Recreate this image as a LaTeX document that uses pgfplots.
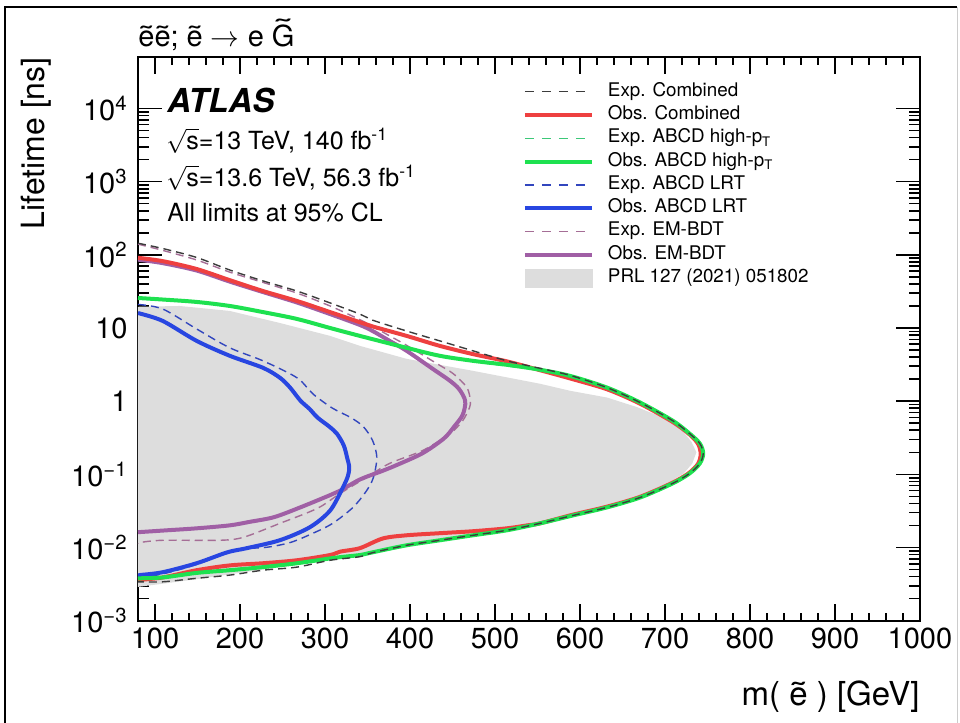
\documentclass[border=0pt]{standalone}
\usepackage{pgfplots}
\pgfplotsset{compat=1.18}
\usepackage{graphicx}
\usepackage{fontspec}
\setmainfont{TeX Gyre Heros}

\definecolor{cRed}{RGB}{238,64,64}
\definecolor{cGreen}{RGB}{30,225,80}
\definecolor{cBlue}{RGB}{40,70,225}
\definecolor{cPurple}{RGB}{160,95,165}
\definecolor{cGray}{RGB}{221,221,221}
\definecolor{cGreenD}{RGB}{60,200,120}
\definecolor{cBlueD}{RGB}{50,70,190}
\definecolor{cPurpleD}{RGB}{165,110,150}
\definecolor{cBlackD}{RGB}{60,60,60}

\newcommand{\tl}[1]{{\ooalign{#1\cr\hidewidth\scalebox{1.35}[1]{\char"02DC}\hidewidth\cr}}}
\newcommand{\tlG}{{\ooalign{G\cr\hidewidth\raisebox{0.22em}{\scalebox{1.7}[1]{\char"02DC}}\hidewidth\cr}}}

\begin{document}
\begin{tikzpicture}
\begin{scope}[x=0.5pt,y=-0.5pt]
\useasboundingbox (0,0) rectangle (960,723);
\draw[line width=1pt] (5,723) -- (5,7) -- (957,7);
\draw[black!20, line width=0.5pt] (957,7) -- (957,723);
\end{scope}

\begin{axis}[
  at={(69pt,-310.35pt)}, anchor=south west,
  width=391pt, height=281.7pt, scale only axis,
  xmin=80, xmax=1000, ymode=log, ymin=1e-3, ymax=5e4,
  xtick={100,200,...,1000}, minor x tick num=4,
  xticklabels={100,200,300,400,500,600,700,800,900,1000},
  ytick={1e-3,1e-2,1e-1,1,10,100,1000,10000},
  yticklabels={10\textsuperscript{−3},10\textsuperscript{−2},10\textsuperscript{−1},1,10,10\textsuperscript{2},10\textsuperscript{3},10\textsuperscript{4}},
  tick align=inside,
  axis line style={line width=1pt},
  every tick/.style={black, line width=0.8pt},
  major tick length=12pt, minor tick length=5.5pt,
  x tick style={/pgfplots/major tick length=8.5pt,/pgfplots/minor tick length=4pt},
  tick label style={font=\fontsize{14.5}{16}\selectfont},
  xticklabel style={inner sep=3.5pt},
  yticklabel style={inner sep=5pt},
  legend image code/.code={\draw[#1] (0pt,0pt) -- (33.5pt,0pt);},
  legend style={at={(0.4923,0.956)}, anchor=north west, draw=none, fill=none,
    inner sep=0pt, outer sep=0pt, row sep=2.15pt, column sep=7pt,
    font=\fontsize{9.4}{11}\selectfont,
    nodes={inner sep=0pt, text height=7pt, text depth=2.5pt}},
  legend cell align=left,
]
% PRL 127 (2021) 051802
\addplot[fill=cGray, draw=none, forget plot] coordinates {
(80,19.5)(129,20.0)(188,17.1)(247,11.7)(306,7.8)(341,5.7)(396,3.79)(474,2.6)
(553,1.73)(588,1.39)(632,1.12)(667,0.83)(698,0.596)(720,0.40)(731,0.28)(737,0.20)
(732,0.14)(722,0.103)(703,0.075)(667,0.049)(630,0.0357)(590,0.0278)(553,0.0218)
(514,0.0175)(474,0.0149)(435,0.0128)(396,0.0109)(356,0.0088)(306,0.0069)(267,0.0058)
(227,0.0050)(188,0.0043)(149,0.0037)(109,0.0032)(80,0.0029)} -- cycle;

% Exp. ABCD high-pT
\addplot[cGreenD, dash pattern=on 4pt off 2.5pt, line width=0.7pt, smooth, tension=0.5, forget plot] coordinates {
(80,25)(109,24)(149,22.3)(188,19.6)(227,16.2)(267,13.0)(306,9.8)(341,7.7)(396,5.3)
(474,3.5)(553,2.65)(588,2.18)(632,1.5)(671,0.94)(709,0.53)(729,0.355)(740,0.262)
(744,0.193)(740,0.141)(728,0.103)(708,0.0755)(670,0.0487)(631,0.0357)(591,0.0277)
(553,0.0216)(474,0.0149)(396,0.0109)(341,0.0080)(306,0.0072)(227,0.0055)(149,0.0046)
(109,0.0040)(80,0.0039)};

% Exp. ABCD LRT
\addplot[cBlueD, dash pattern=on 4pt off 2.5pt, line width=0.7pt, smooth, tension=0.5, forget plot] coordinates {
(80,21)(109,18.2)(149,9.7)(188,5.36)(227,3.56)(267,2.09)(286,1.25)(309,0.80)
(330,0.6)(345,0.45)(356,0.29)(361,0.170)(357,0.091)(349,0.060)(333,0.0354)
(309,0.0214)(286,0.0157)(260,0.0118)(232,0.0101)(192,0.0092)(153,0.0061)(114,0.0045)
(82,0.0038)(80,0.0038)};

% Exp. EM-BDT
\addplot[cPurpleD, dash pattern=on 4pt off 2.5pt, line width=0.7pt, smooth, tension=0.5, forget plot] coordinates {
(80,140)(109,115)(149,85)(188,58)(227,42)(267,30)(306,20)(341,13)(356,10.5)(376,7.8)
(396,5.8)(432,3.24)(451,2.37)(467,1.53)(471,1.02)(470,0.815)(462,0.542)(447,0.360)
(415,0.212)(376,0.141)(349,0.091)(318,0.055)(291,0.0343)(247,0.0214)(204,0.0138)
(176,0.01256)(109,0.01256)(82,0.0117)(80,0.0112)};

% Obs. EM-BDT
\addplot[cPurple, line width=2pt, smooth, tension=0.5, forget plot] coordinates {
(80,86)(109,77)(149,61)(188,43)(227,31)(267,22.3)(306,15.5)(341,11)(356,9.1)
(376,6.67)(396,4.88)(427,2.75)(447,1.90)(458,1.45)(465,1.0)(462,0.65)(452,0.45)
(440,0.31)(415,0.195)(385,0.135)(368,0.112)(341,0.085)(318,0.060)(306,0.052)
(271,0.0354)(240,0.026)(212,0.0225)(188,0.0201)(149,0.0183)(114,0.0172)(80,0.0162)};

% Obs. ABCD LRT
\addplot[cBlue, line width=2pt, smooth, tension=0.5, forget plot] coordinates {
(80,16)(109,12.5)(149,6.67)(188,4.17)(227,2.86)(247,2.09)(259,1.53)(271,1.02)
(282,0.78)(291,0.60)(305,0.45)(314,0.36)(322,0.25)(326,0.17)(328.5,0.125)(327,0.095)
(321,0.066)(306,0.032)(282,0.0189)(247,0.0126)(208,0.0098)(185,0.0086)(149,0.0061)
(109,0.0046)(82,0.0042)(80,0.0041)};

% Obs. Combined
\addplot[cRed, line width=2pt, smooth, tension=0.5, forget plot] coordinates {
(80,91)(109,82)(149,64)(188,45)(227,32)(267,23.4)(306,16.5)(341,12)
(356,10.5)(396,7.8)(435,5.7)(474,4.4)(514,3.5)(553,2.65)(588,2.05)(632,1.45)(671,0.92)
(709,0.52)(729,0.35)(739,0.26)(742,0.19)(739,0.14)(728,0.104)(708,0.076)(670,0.049)
(631,0.036)(591,0.028)(553,0.0214)(538,0.0201)(514,0.0183)(474,0.0167)(435,0.0157)
(396,0.0147)(368,0.0133)(341,0.0098)(318,0.0088)(306,0.0079)(267,0.0067)(227,0.0061)
(188,0.0057)(149,0.0049)(109,0.0039)(80,0.0036)};

% Obs. ABCD high-pT
\addplot[cGreen, line width=2pt, smooth, tension=0.5, forget plot] coordinates {
(80,25.7)(109,24.5)(149,22.7)(188,20.0)(227,16.5)(267,13.3)(306,10.0)(341,7.8)
(396,5.36)(435,4.17)(474,3.56)(514,3.14)(553,2.69)(588,2.22)(632,1.53)
(671,0.955)(709,0.542)(729,0.36)(741,0.264)(745,0.193)(741,0.141)(729,0.103)
(709,0.0752)(671,0.0484)(632,0.0354)(592,0.0275)(553,0.0214)(514,0.0172)(474,0.0147)
(435,0.01256)(396,0.01073)(356,0.0086)(341,0.0079)(318,0.0074)(306,0.0071)(267,0.0061)
(227,0.0054)(188,0.0049)(149,0.0045)(109,0.0039)(80,0.0038)};

% Exp. Combined
\addplot[cBlackD, dash pattern=on 4pt off 2.5pt, line width=0.7pt, smooth, tension=0.5, forget plot] coordinates {
(80,144)(109,122)(149,92)(188,62)(227,44)(267,32)(306,22)(341,15.5)(356,12.8)(396,9.1)
(435,6.67)(474,4.88)(514,3.56)(545,2.95)(588,2.26)(632,1.53)(671,0.955)(709,0.542)
(729,0.36)(741,0.264)(745,0.193)(741,0.141)(729,0.103)(709,0.0752)(671,0.0484)(632,0.0354)
(592,0.0275)(553,0.0214)(514,0.0172)(474,0.0147)(435,0.01256)(396,0.01073)(356,0.0085)
(341,0.0075)(306,0.0067)(267,0.0054)(227,0.0049)(188,0.0042)(149,0.0038)(109,0.0034)
(80,0.0034)};

\addlegendimage{cBlackD, dash pattern=on 4.5pt off 4pt, line width=0.7pt}
\addlegendentry{Exp. Combined}
\addlegendimage{cRed, line width=2pt}
\addlegendentry{Obs. Combined}
\addlegendimage{cGreenD, dash pattern=on 4.5pt off 4pt, line width=0.7pt}
\addlegendentry{Exp. ABCD high-p\textsubscript{T}}
\addlegendimage{cGreen, line width=2pt}
\addlegendentry{Obs. ABCD high-p\textsubscript{T}}
\addlegendimage{cBlueD, dash pattern=on 4.5pt off 4pt, line width=0.7pt}
\addlegendentry{Exp. ABCD LRT}
\addlegendimage{cBlue, line width=2pt}
\addlegendentry{Obs. ABCD LRT}
\addlegendimage{cPurpleD, dash pattern=on 4.5pt off 4pt, line width=0.7pt}
\addlegendentry{Exp. EM-BDT}
\addlegendimage{cPurple, line width=2pt}
\addlegendentry{Obs. EM-BDT}
\addlegendimage{legend image code/.code={\fill[cGray] (0pt,-4.5pt) rectangle (33.5pt,4.5pt);}}
\addlegendentry{PRL 127 (2021) 051802}
\end{axis}

\begin{scope}[x=0.5pt,y=-0.5pt]
\node[anchor=base west, inner sep=0pt, font=\fontsize{14.5}{16}\selectfont] at (138,46) {\tl{e}\tl{e}; \tl{e} $\rightarrow$ e \tlG};
\node[anchor=base west, inner sep=0pt, font=\fontsize{16.5}{18}\selectfont\bfseries\itshape] at (167,112) {ATLAS};
\node[anchor=base west, inner sep=0pt, font=\fontsize{12.5}{14}\selectfont] at (166,149) {$\sqrt{\mbox{s}}$=13 TeV, 140 fb\textsuperscript{-1}};
\node[anchor=base west, inner sep=0pt, font=\fontsize{12.5}{14}\selectfont] at (166,186) {$\sqrt{\mbox{s}}$=13.6 TeV, 56.3 fb\textsuperscript{-1}};
\node[anchor=base west, inner sep=0pt, font=\fontsize{12.5}{14}\selectfont] at (167,221) {All limits at 95\% CL};
\node[rotate=90, anchor=base east, inner sep=0pt, font=\fontsize{16}{18}\selectfont] at (44,57) {Lifetime [ns]};
\node[anchor=base east, inner sep=0pt, font=\fontsize{16.5}{18}\selectfont] at (920,705) {m( \tl{e} ) [GeV]};
\end{scope}
\end{tikzpicture}
\end{document}
